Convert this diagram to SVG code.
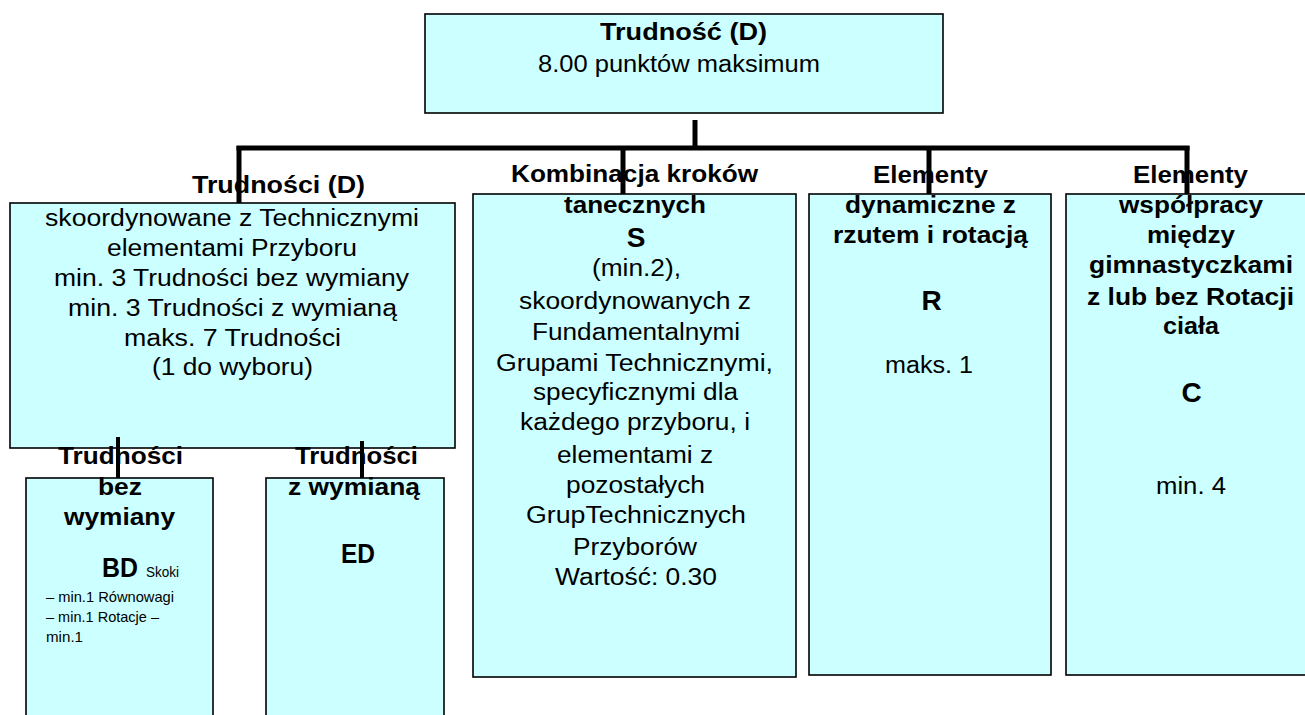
<svg xmlns="http://www.w3.org/2000/svg" width="1305" height="715" viewBox="0 0 1305 715">
<style>
.box{fill:#CCFFFF;stroke:#000;stroke-width:1.6}
text{font-family:"Liberation Sans",Arial,sans-serif;fill:#000;text-anchor:middle}
.b{font-weight:bold;font-size:23px}
.r{font-size:23px}
.t{font-size:23px}
.big{font-weight:bold;font-size:28px}
.cal{font-weight:bold;font-size:27px}
.sm{font-size:15px;text-anchor:start}
.conn{stroke:#000;fill:none;stroke-linecap:butt}
</style>
<rect width="1305" height="715" fill="#fff"/>
<g id="node-top">
<rect class="box" x="425" y="14" width="518" height="99"/>
<text class="t" font-weight="bold" x="683.5" y="40" textLength="167" lengthAdjust="spacingAndGlyphs">Trudność (D)</text>
<text class="t" x="679" y="72" textLength="282" lengthAdjust="spacingAndGlyphs">8.00 punktów maksimum</text>
</g>
<g id="node-D">
<rect class="box" x="10" y="203" width="445" height="245"/>
<text class="b" x="278.5" y="193" textLength="173" lengthAdjust="spacingAndGlyphs">Trudności (D)</text>
<text class="r" x="232" y="226" textLength="374" lengthAdjust="spacingAndGlyphs">skoordynowane z Technicznymi</text>
<text class="r" x="232" y="256" textLength="250" lengthAdjust="spacingAndGlyphs">elementami Przyboru</text>
<text class="r" x="231.5" y="286" textLength="355" lengthAdjust="spacingAndGlyphs">min. 3 Trudności bez wymiany</text>
<text class="r" x="232.5" y="316" textLength="329" lengthAdjust="spacingAndGlyphs">min. 3 Trudności z wymianą</text>
<text class="r" x="232.5" y="346" textLength="217" lengthAdjust="spacingAndGlyphs">maks. 7 Trudności</text>
<text class="r" x="232.5" y="375" textLength="161" lengthAdjust="spacingAndGlyphs">(1 do wyboru)</text>
</g>
<g id="node-BD">
<rect class="box" x="26" y="478" width="187" height="250"/>
<text class="b" x="120.5" y="464" textLength="125" lengthAdjust="spacingAndGlyphs">Trudności</text>
<text class="b" x="120" y="495" textLength="44" lengthAdjust="spacingAndGlyphs">bez</text>
<text class="b" x="119.5" y="525" textLength="111" lengthAdjust="spacingAndGlyphs">wymiany</text>
<text class="cal" x="120" y="577" textLength="36" lengthAdjust="spacingAndGlyphs">BD</text>
<text class="sm" x="146" y="577" textLength="33" lengthAdjust="spacingAndGlyphs">Skoki</text>
<text class="sm" x="46" y="602" textLength="128" lengthAdjust="spacingAndGlyphs">– min.1 Równowagi</text>
<text class="sm" x="46" y="622" textLength="113" lengthAdjust="spacingAndGlyphs">– min.1 Rotacje –</text>
<text class="sm" x="46" y="642" textLength="37" lengthAdjust="spacingAndGlyphs">min.1</text>
</g>
<g id="node-ED">
<rect class="box" x="266" y="478" width="178" height="250"/>
<text class="b" x="356.5" y="464" textLength="123" lengthAdjust="spacingAndGlyphs">Trudności</text>
<text class="b" x="354" y="495" textLength="132" lengthAdjust="spacingAndGlyphs">z wymianą</text>
<text class="cal" x="358" y="563" textLength="34" lengthAdjust="spacingAndGlyphs">ED</text>
</g>
<g id="node-S">
<rect class="box" x="473" y="194" width="323" height="483"/>
<text class="b" x="634.5" y="182" textLength="247" lengthAdjust="spacingAndGlyphs">Kombinacja kroków</text>
<text class="b" x="635" y="213" textLength="142" lengthAdjust="spacingAndGlyphs">tanecznych</text>
<text class="big" font-size="29" x="636" y="247">S</text>
<text class="r" x="636.5" y="276" textLength="89" lengthAdjust="spacingAndGlyphs">(min.2),</text>
<text class="r" x="635" y="309" textLength="232" lengthAdjust="spacingAndGlyphs">skoordynowanych z</text>
<text class="r" x="636" y="340" textLength="208" lengthAdjust="spacingAndGlyphs">Fundamentalnymi</text>
<text class="r" x="634.5" y="371" textLength="277" lengthAdjust="spacingAndGlyphs">Grupami Technicznymi,</text>
<text class="r" x="635.5" y="400" textLength="205" lengthAdjust="spacingAndGlyphs">specyficznymi dla</text>
<text class="r" x="635" y="430" textLength="230" lengthAdjust="spacingAndGlyphs">każdego przyboru, i</text>
<text class="r" x="635" y="463" textLength="156" lengthAdjust="spacingAndGlyphs">elementami z</text>
<text class="r" x="635.5" y="493" textLength="139" lengthAdjust="spacingAndGlyphs">pozostałych</text>
<text class="r" x="636" y="523" textLength="220" lengthAdjust="spacingAndGlyphs">GrupTechnicznych</text>
<text class="r" x="635" y="555" textLength="124" lengthAdjust="spacingAndGlyphs">Przyborów</text>
<text class="r" x="636" y="585" textLength="162" lengthAdjust="spacingAndGlyphs">Wartość: 0.30</text>
</g>
<g id="node-R">
<rect class="box" x="809" y="194" width="242" height="481"/>
<text class="b" x="930.5" y="183" textLength="115" lengthAdjust="spacingAndGlyphs">Elementy</text>
<text class="b" x="930.5" y="213" textLength="171" lengthAdjust="spacingAndGlyphs">dynamiczne z</text>
<text class="b" x="930.5" y="243" textLength="195" lengthAdjust="spacingAndGlyphs">rzutem i rotacją</text>
<text class="big" x="931.5" y="310">R</text>
<text class="r" x="929" y="373" textLength="88" lengthAdjust="spacingAndGlyphs">maks. 1</text>
</g>
<g id="node-C">
<rect class="box" x="1066" y="194" width="260" height="481"/>
<text class="b" x="1190.5" y="183" textLength="115" lengthAdjust="spacingAndGlyphs">Elementy</text>
<text class="b" x="1191" y="213" textLength="144" lengthAdjust="spacingAndGlyphs">współpracy</text>
<text class="b" x="1191" y="243" textLength="88" lengthAdjust="spacingAndGlyphs">między</text>
<text class="b" x="1191" y="273" textLength="204" lengthAdjust="spacingAndGlyphs">gimnastyczkami</text>
<text class="b" x="1190.5" y="305" textLength="207" lengthAdjust="spacingAndGlyphs">z lub bez Rotacji</text>
<text class="b" x="1191" y="334" textLength="56" lengthAdjust="spacingAndGlyphs">ciała</text>
<text class="big" x="1191.5" y="402">C</text>
<text class="r" x="1191" y="494" textLength="70" lengthAdjust="spacingAndGlyphs">min. 4</text>
</g>
<g id="connectors" class="conn">
<line x1="695" y1="120" x2="695" y2="149" stroke-width="5"/>
<line x1="236.5" y1="148" x2="1189.5" y2="148" stroke-width="5"/>
<line x1="239" y1="146" x2="239" y2="203" stroke-width="5"/>
<line x1="623" y1="146" x2="623" y2="194" stroke-width="5"/>
<line x1="929" y1="146" x2="929" y2="194" stroke-width="5"/>
<line x1="1187" y1="146" x2="1187" y2="194" stroke-width="5"/>
<line x1="118" y1="437" x2="118" y2="478" stroke-width="4"/>
<line x1="362" y1="441" x2="362" y2="478" stroke-width="4"/>
</g>
</svg>
